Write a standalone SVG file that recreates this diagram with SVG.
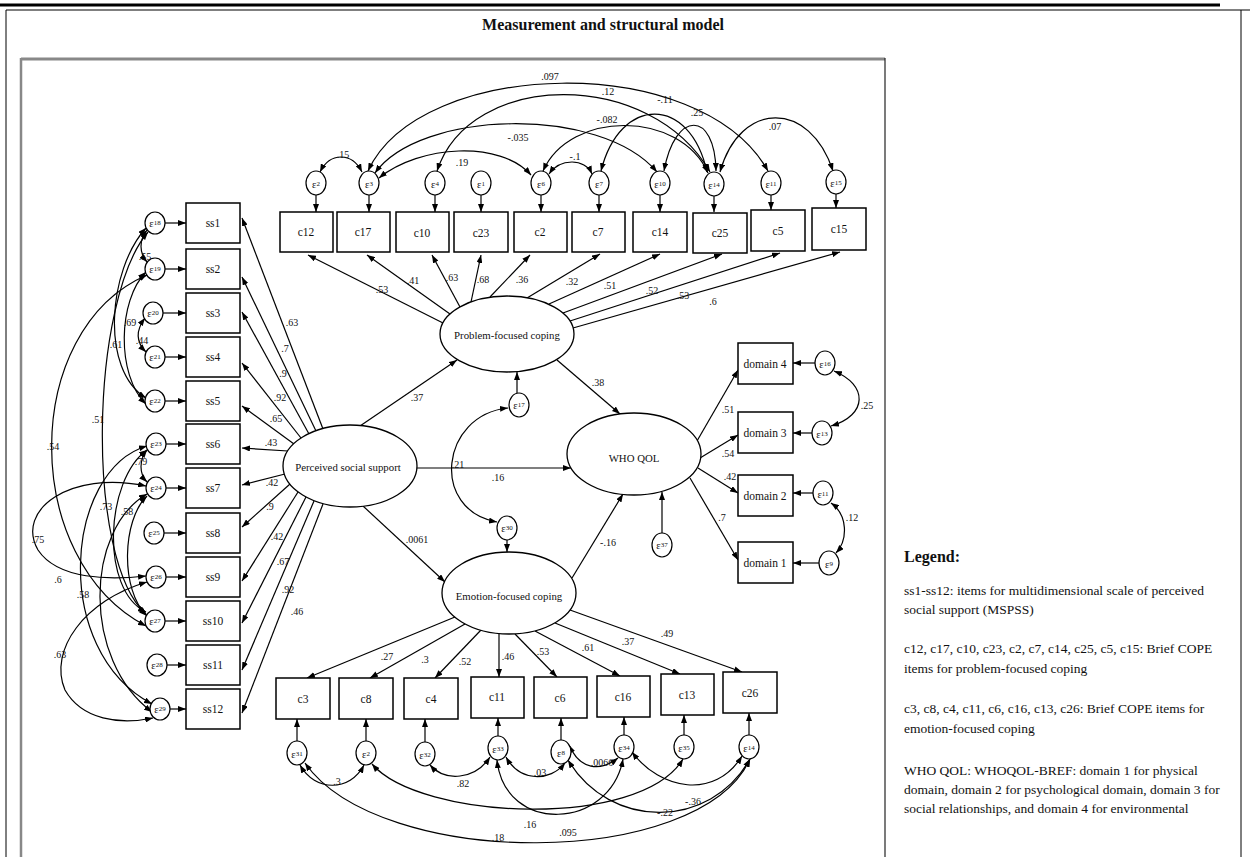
<svg xmlns="http://www.w3.org/2000/svg" width="1250" height="857" viewBox="0 0 1250 857">
<defs>
  <marker id="ah" viewBox="0 0 8 6" refX="8" refY="3" markerWidth="8" markerHeight="6" markerUnits="userSpaceOnUse" orient="auto-start-reverse">
    <path d="M0,0 L8,3 L0,6 z" fill="#000"/>
  </marker>
  <style>
    .ln{stroke:#000;stroke-width:1.2;fill:none}
    .p{marker-end:url(#ah)}
    .cv{marker-start:url(#ah);marker-end:url(#ah)}
    .box{fill:#fff;stroke:#000;stroke-width:1.5}
    .err{fill:#fff;stroke:#000;stroke-width:1.2}
    .lat{fill:#fff;stroke:#000;stroke-width:1.3}
    text{font-family:"Liberation Serif","Times New Roman",serif;fill:#111}
    .nt{font-size:11.5px;text-anchor:middle;dominant-baseline:central}
    .lt{font-size:10.8px;text-anchor:middle;dominant-baseline:central}
    .et{font-size:10.5px;text-anchor:middle;dominant-baseline:central}
    .et tspan{font-size:7px}
    .k{font-size:10px;text-anchor:middle}
    .lg{font-size:13.5px}
  </style>
</defs>

<!-- page frame -->
<rect x="0" y="0" width="1250" height="857" fill="#fff"/>
<line x1="0" y1="5" x2="1220" y2="5" stroke="#000" stroke-width="3"/>
<line x1="6" y1="10" x2="1250" y2="10" stroke="#000" stroke-width="1"/>
<line x1="6" y1="10" x2="6" y2="857" stroke="#000" stroke-width="1"/>
<line x1="1241" y1="10" x2="1241" y2="857" stroke="#000" stroke-width="1"/>
<text x="603" y="30" font-size="16" font-weight="bold" text-anchor="middle">Measurement and structural model</text>

<!-- figure panel -->
<line x1="21" y1="59" x2="885" y2="59" stroke="#888" stroke-width="3"/>
<line x1="21" y1="58" x2="21" y2="857" stroke="#888" stroke-width="2.5"/>
<line x1="885" y1="58" x2="885" y2="857" stroke="#222" stroke-width="1.2"/>

<g id="connectors">
  <!-- structural paths -->
  <line class="ln p" x1="360" y1="426" x2="457" y2="360"/>
  <line class="ln p" x1="557" y1="360" x2="620" y2="414"/>
  <line class="ln p" x1="417" y1="468" x2="571" y2="468"/>
  <line class="ln p" x1="363" y1="506" x2="445" y2="582"/>
  <line class="ln p" x1="572" y1="578" x2="623" y2="494"/>

  <!-- social support loadings -->
  <line class="ln p" x1="323" y1="429" x2="242" y2="218"/>
  <line class="ln p" x1="316" y1="431" x2="242" y2="277"/>
  <line class="ln p" x1="309" y1="434" x2="242" y2="312"/>
  <line class="ln p" x1="301" y1="438" x2="242" y2="363"/>
  <line class="ln p" x1="294" y1="444" x2="242" y2="406"/>
  <line class="ln p" x1="288" y1="451" x2="242" y2="448"/>
  <line class="ln p" x1="285" y1="474" x2="242" y2="485"/>
  <line class="ln p" x1="290" y1="484" x2="242" y2="527"/>
  <line class="ln p" x1="298" y1="492" x2="242" y2="581"/>
  <line class="ln p" x1="306" y1="497" x2="242" y2="623"/>
  <line class="ln p" x1="314" y1="501" x2="242" y2="670"/>
  <line class="ln p" x1="323" y1="504" x2="242" y2="713"/>

  <!-- problem-focused loadings -->
  <line class="ln p" x1="443" y1="323" x2="308" y2="255"/>
  <line class="ln p" x1="450" y1="314" x2="367" y2="255"/>
  <line class="ln p" x1="460" y1="307" x2="432" y2="255"/>
  <line class="ln p" x1="471" y1="302" x2="481" y2="255"/>
  <line class="ln p" x1="490" y1="297" x2="530" y2="255"/>
  <line class="ln p" x1="527" y1="298" x2="600" y2="254"/>
  <line class="ln p" x1="549" y1="304" x2="660" y2="254"/>
  <line class="ln p" x1="563" y1="313" x2="722" y2="254"/>
  <line class="ln p" x1="570" y1="321" x2="780" y2="253"/>
  <line class="ln p" x1="573" y1="328" x2="840" y2="252"/>

  <!-- emotion-focused loadings -->
  <line class="ln p" x1="455" y1="617" x2="307" y2="678"/>
  <line class="ln p" x1="465" y1="624" x2="370" y2="678"/>
  <line class="ln p" x1="481" y1="630" x2="435" y2="678"/>
  <line class="ln p" x1="499" y1="634" x2="499" y2="677"/>
  <line class="ln p" x1="515" y1="634" x2="557" y2="677"/>
  <line class="ln p" x1="535" y1="631" x2="620" y2="676"/>
  <line class="ln p" x1="555" y1="623" x2="680" y2="674"/>
  <line class="ln p" x1="570" y1="610" x2="742" y2="672"/>

  <!-- quality of life loadings -->
  <line class="ln p" x1="697" y1="441" x2="738" y2="370"/>
  <line class="ln p" x1="700" y1="458" x2="738" y2="435"/>
  <line class="ln p" x1="698" y1="468" x2="738" y2="493"/>
  <line class="ln p" x1="690" y1="478" x2="738" y2="560"/>

  <!-- residual arrows: top items -->
  <line class="ln p" x1="316" y1="195" x2="316" y2="212"/>
  <line class="ln p" x1="369" y1="195" x2="369" y2="212"/>
  <line class="ln p" x1="435" y1="195" x2="435" y2="212"/>
  <line class="ln p" x1="481" y1="195" x2="481" y2="212"/>
  <line class="ln p" x1="541" y1="195" x2="541" y2="212"/>
  <line class="ln p" x1="599" y1="195" x2="599" y2="212"/>
  <line class="ln p" x1="660" y1="195" x2="660" y2="212"/>
  <line class="ln p" x1="714" y1="196" x2="714" y2="212"/>
  <line class="ln p" x1="771" y1="195" x2="771" y2="210"/>
  <line class="ln p" x1="836" y1="194" x2="836" y2="208"/>

  <!-- residual arrows: social support items -->
  <line class="ln p" x1="165" y1="223" x2="186" y2="223"/>
  <line class="ln p" x1="165" y1="269" x2="186" y2="269"/>
  <line class="ln p" x1="163" y1="313" x2="186" y2="313"/>
  <line class="ln p" x1="165" y1="357" x2="186" y2="357"/>
  <line class="ln p" x1="165" y1="401" x2="186" y2="401"/>
  <line class="ln p" x1="166" y1="444" x2="186" y2="444"/>
  <line class="ln p" x1="166" y1="488" x2="186" y2="488"/>
  <line class="ln p" x1="164" y1="533" x2="186" y2="533"/>
  <line class="ln p" x1="166" y1="577" x2="186" y2="577"/>
  <line class="ln p" x1="165" y1="621" x2="186" y2="621"/>
  <line class="ln p" x1="167" y1="665" x2="186" y2="665"/>
  <line class="ln p" x1="170" y1="709" x2="186" y2="709"/>

  <!-- residual arrows: bottom items -->
  <line class="ln p" x1="297" y1="741" x2="297" y2="719"/>
  <line class="ln p" x1="366" y1="741" x2="366" y2="719"/>
  <line class="ln p" x1="425" y1="742" x2="425" y2="719"/>
  <line class="ln p" x1="498" y1="736" x2="498" y2="718"/>
  <line class="ln p" x1="561" y1="740" x2="561" y2="718"/>
  <line class="ln p" x1="624" y1="735" x2="624" y2="717"/>
  <line class="ln p" x1="684" y1="735" x2="684" y2="715"/>
  <line class="ln p" x1="749" y1="735" x2="749" y2="713"/>

  <!-- residual arrows: domains and latent disturbances -->
  <line class="ln p" x1="815" y1="363" x2="793" y2="363"/>
  <line class="ln p" x1="812" y1="433" x2="793" y2="433"/>
  <line class="ln p" x1="813" y1="493" x2="793" y2="493"/>
  <line class="ln p" x1="819" y1="563" x2="793" y2="563"/>
  <line class="ln p" x1="517" y1="393" x2="517" y2="372"/>
  <line class="ln p" x1="507" y1="540" x2="507" y2="552"/>
  <line class="ln p" x1="662" y1="533" x2="662" y2="492"/>

  <!-- covariances: top residuals -->
  <path class="ln cv" d="M320,172 C330,152 352,152 362,172"/>
  <path class="ln cv" d="M368,171 C420,58 700,50 768,171"/>
  <path class="ln cv" d="M437,171 C470,70 650,68 710,172"/>
  <path class="ln cv" d="M375,173 C420,110 600,105 657,172"/>
  <path class="ln cv" d="M379,178 C420,145 500,140 531,175"/>
  <path class="ln cv" d="M549,174 C560,158 585,158 592,174"/>
  <path class="ln cv" d="M543,171 C570,110 680,110 708,173"/>
  <path class="ln cv" d="M601,171 C620,95 690,95 707,172"/>
  <path class="ln cv" d="M664,171 C675,110 715,110 716,171"/>
  <path class="ln cv" d="M720,172 C740,100 810,100 833,171"/>

  <!-- covariances: social support residuals -->
  <path class="ln cv" d="M147,230 C139,240 139,253 147,262"/>
  <path class="ln cv" d="M146,228 C108,270 100,370 146,398"/>
  <path class="ln cv" d="M146,272 C118,300 116,375 146,404"/>
  <path class="ln cv" d="M145,318 C136,330 136,342 146,352"/>
  <path class="ln cv" d="M148,232 C90,300 85,560 146,614"/>
  <path class="ln cv" d="M147,275 C20,330 20,560 146,626"/>
  <path class="ln cv" d="M147,450 C139,460 139,474 147,482"/>
  <path class="ln cv" d="M147,450 C105,480 100,590 146,612"/>
  <path class="ln cv" d="M147,496 C122,520 120,590 147,616"/>
  <path class="ln cv" d="M146,486 C70,470 15,510 38,550 C58,580 110,580 146,576"/>
  <path class="ln cv" d="M147,446 C65,470 50,650 152,704"/>
  <path class="ln cv" d="M147,494 C85,530 82,660 152,712"/>
  <path class="ln cv" d="M147,582 C85,600 48,650 65,690 C82,720 120,725 153,718"/>

  <!-- covariances: bottom residuals -->
  <path class="ln cv" d="M300,765 C315,792 350,792 364,765"/>
  <path class="ln cv" d="M430,765 C445,782 475,780 490,757"/>
  <path class="ln cv" d="M506,757 C520,782 550,782 565,763"/>
  <path class="ln cv" d="M569,745 C580,770 600,772 618,758"/>
  <path class="ln cv" d="M632,752 C660,790 715,800 742,756"/>
  <path class="ln cv" d="M568,760 C610,830 710,830 750,759"/>
  <path class="ln cv" d="M497,760 C505,835 610,830 623,759"/>
  <path class="ln cv" d="M372,764 C420,820 640,830 683,759"/>
  <path class="ln cv" d="M305,763 C380,870 700,870 750,759"/>

  <!-- covariances: domains and disturbances -->
  <path class="ln cv" d="M834,371 C868,385 868,415 831,426"/>
  <path class="ln cv" d="M831,503 C848,515 848,540 836,553"/>
  <path class="ln cv" d="M508,408 C440,415 430,510 497,522"/>

  <!-- coefficients -->
  <g class="k">
    <text x="343" y="158">.15</text>
    <text x="550" y="80">.097</text>
    <text x="608" y="95">.12</text>
    <text x="518" y="141">-.035</text>
    <text x="462" y="166">.19</text>
    <text x="575" y="160">-.1</text>
    <text x="607" y="123">-.082</text>
    <text x="665" y="103">-.11</text>
    <text x="697" y="116">.25</text>
    <text x="775" y="130">.07</text>

    <text x="382" y="293">.53</text>
    <text x="413" y="284">.41</text>
    <text x="452" y="281">.63</text>
    <text x="483" y="283">.68</text>
    <text x="522" y="283">.36</text>
    <text x="572" y="285">.32</text>
    <text x="610" y="289">.51</text>
    <text x="652" y="294">.52</text>
    <text x="683" y="299">.53</text>
    <text x="713" y="305">.6</text>

    <text x="292" y="326">.63</text>
    <text x="285" y="352">.7</text>
    <text x="283" y="377">.9</text>
    <text x="280" y="401">.92</text>
    <text x="276" y="422">.65</text>
    <text x="271" y="446">.43</text>
    <text x="272" y="486">.42</text>
    <text x="270" y="510">.9</text>
    <text x="277" y="540">.42</text>
    <text x="283" y="565">.67</text>
    <text x="288" y="593">.92</text>
    <text x="297" y="615">.46</text>

    <text x="145" y="260">.55</text>
    <text x="130" y="326">.69</text>
    <text x="116" y="348">.61</text>
    <text x="142" y="344">.44</text>
    <text x="98" y="423">.51</text>
    <text x="53" y="450">.54</text>
    <text x="141" y="465">.79</text>
    <text x="106" y="510">.73</text>
    <text x="127" y="515">.58</text>
    <text x="38" y="543">.75</text>
    <text x="58" y="583">.6</text>
    <text x="83" y="598">.58</text>
    <text x="60" y="658">.63</text>

    <text x="417" y="401">.37</text>
    <text x="598" y="386">.38</text>
    <text x="498" y="481">.16</text>
    <text x="458" y="468">.21</text>
    <text x="417" y="543">.0061</text>
    <text x="608" y="546">-.16</text>

    <text x="728" y="413">.51</text>
    <text x="728" y="457">.54</text>
    <text x="730" y="480">.42</text>
    <text x="722" y="521">.7</text>
    <text x="867" y="409">.25</text>
    <text x="852" y="521">.12</text>

    <text x="387" y="660">.27</text>
    <text x="425" y="663">.3</text>
    <text x="465" y="665">.52</text>
    <text x="508" y="660">.46</text>
    <text x="543" y="655">.53</text>
    <text x="588" y="651">.61</text>
    <text x="628" y="645">.37</text>
    <text x="667" y="637">.49</text>

    <text x="337" y="785">.3</text>
    <text x="463" y="787">.82</text>
    <text x="540" y="776">.03</text>
    <text x="602" y="766">.0066</text>
    <text x="693" y="805">-.36</text>
    <text x="665" y="816">-.22</text>
    <text x="530" y="828">.16</text>
    <text x="568" y="836">.095</text>
    <text x="498" y="841">.18</text>
  </g>
</g>

<!-- latent variables -->
<g id="pss"><ellipse class="lat" cx="350" cy="466" rx="67" ry="41"/><text class="lt" x="348" y="467">Perceived social support</text></g>
<g id="pfc"><ellipse class="lat" cx="507" cy="334" rx="67" ry="38"/><text class="lt" x="507" y="335">Problem-focused coping</text></g>
<g id="efc"><ellipse class="lat" cx="509" cy="593" rx="67" ry="41"/><text class="lt" x="509" y="596">Emotion-focused coping</text></g>
<g id="whoqol"><ellipse class="lat" cx="634" cy="454" rx="67" ry="41"/><text class="lt" x="634" y="458">WHO QOL</text></g>

<!-- disturbances of latent variables -->
<g id="e_pfc"><ellipse class="err" cx="519" cy="405" rx="10" ry="12"/><text class="et" x="519" y="405">ε<tspan>17</tspan></text></g>
<g id="e_efc"><ellipse class="err" cx="507" cy="528" rx="10" ry="12"/><text class="et" x="507" y="528">ε<tspan>30</tspan></text></g>
<g id="e_qol"><ellipse class="err" cx="662" cy="545" rx="10" ry="12"/><text class="et" x="662" y="545">ε<tspan>37</tspan></text></g>

<!-- problem-focused items -->
<g id="c12"><rect class="box" x="280" y="212" width="53" height="40"/><text class="nt" x="306" y="232">c12</text></g>
<g id="c17"><rect class="box" x="337" y="212" width="53" height="40"/><text class="nt" x="363" y="232">c17</text></g>
<g id="c10"><rect class="box" x="396" y="212" width="53" height="40"/><text class="nt" x="422" y="233">c10</text></g>
<g id="c23"><rect class="box" x="454" y="212" width="54" height="40"/><text class="nt" x="481" y="233">c23</text></g>
<g id="c2"><rect class="box" x="514" y="212" width="53" height="40"/><text class="nt" x="540" y="232">c2</text></g>
<g id="c7"><rect class="box" x="572" y="212" width="53" height="40"/><text class="nt" x="598" y="232">c7</text></g>
<g id="c14"><rect class="box" x="633" y="212" width="54" height="40"/><text class="nt" x="660" y="232">c14</text></g>
<g id="c25"><rect class="box" x="693" y="213" width="54" height="40"/><text class="nt" x="720" y="233">c25</text></g>
<g id="c5"><rect class="box" x="751" y="210" width="54" height="41"/><text class="nt" x="778" y="231">c5</text></g>
<g id="c15"><rect class="box" x="812" y="208" width="54" height="42"/><text class="nt" x="839" y="229">c15</text></g>

<g id="e_c12"><ellipse class="err" cx="316" cy="183" rx="10" ry="12"/><text class="et" x="316" y="184">ε<tspan>2</tspan></text></g>
<g id="e_c17"><ellipse class="err" cx="369" cy="183" rx="10" ry="12"/><text class="et" x="369" y="184">ε<tspan>3</tspan></text></g>
<g id="e_c10"><ellipse class="err" cx="435" cy="183" rx="10" ry="12"/><text class="et" x="435" y="184">ε<tspan>4</tspan></text></g>
<g id="e_c23"><ellipse class="err" cx="481" cy="183" rx="10" ry="12"/><text class="et" x="481" y="184">ε<tspan>1</tspan></text></g>
<g id="e_c2"><ellipse class="err" cx="541" cy="183" rx="10" ry="12"/><text class="et" x="541" y="184">ε<tspan>6</tspan></text></g>
<g id="e_c7"><ellipse class="err" cx="599" cy="183" rx="10" ry="12"/><text class="et" x="599" y="184">ε<tspan>7</tspan></text></g>
<g id="e_c14"><ellipse class="err" cx="660" cy="183" rx="10" ry="12"/><text class="et" x="660" y="184">ε<tspan>10</tspan></text></g>
<g id="e_c25"><ellipse class="err" cx="714" cy="184" rx="10" ry="12"/><text class="et" x="714" y="185">ε<tspan>14</tspan></text></g>
<g id="e_c5"><ellipse class="err" cx="771" cy="183" rx="10" ry="12"/><text class="et" x="771" y="184">ε<tspan>11</tspan></text></g>
<g id="e_c15"><ellipse class="err" cx="836" cy="182" rx="10" ry="12"/><text class="et" x="836" y="183">ε<tspan>15</tspan></text></g>

<!-- social support items -->
<g id="ss1"><rect class="box" x="186" y="203" width="54" height="40"/><text class="nt" x="213" y="223">ss1</text></g>
<g id="ss2"><rect class="box" x="186" y="249" width="54" height="40"/><text class="nt" x="213" y="269">ss2</text></g>
<g id="ss3"><rect class="box" x="186" y="293" width="54" height="40"/><text class="nt" x="213" y="313">ss3</text></g>
<g id="ss4"><rect class="box" x="186" y="337" width="54" height="40"/><text class="nt" x="213" y="357">ss4</text></g>
<g id="ss5"><rect class="box" x="186" y="381" width="54" height="40"/><text class="nt" x="213" y="401">ss5</text></g>
<g id="ss6"><rect class="box" x="186" y="424" width="54" height="40"/><text class="nt" x="213" y="444">ss6</text></g>
<g id="ss7"><rect class="box" x="186" y="468" width="54" height="40"/><text class="nt" x="213" y="488">ss7</text></g>
<g id="ss8"><rect class="box" x="186" y="513" width="54" height="40"/><text class="nt" x="213" y="533">ss8</text></g>
<g id="ss9"><rect class="box" x="186" y="557" width="54" height="40"/><text class="nt" x="213" y="577">ss9</text></g>
<g id="ss10"><rect class="box" x="186" y="601" width="54" height="40"/><text class="nt" x="213" y="621">ss10</text></g>
<g id="ss11"><rect class="box" x="186" y="645" width="54" height="40"/><text class="nt" x="213" y="665">ss11</text></g>
<g id="ss12"><rect class="box" x="186" y="689" width="54" height="40"/><text class="nt" x="213" y="709">ss12</text></g>

<g id="e_ss1"><ellipse class="err" cx="155" cy="223" rx="10" ry="11"/><text class="et" x="155" y="223">ε<tspan>18</tspan></text></g>
<g id="e_ss2"><ellipse class="err" cx="155" cy="269" rx="10" ry="11"/><text class="et" x="155" y="269">ε<tspan>19</tspan></text></g>
<g id="e_ss3"><ellipse class="err" cx="153" cy="313" rx="10" ry="11"/><text class="et" x="153" y="313">ε<tspan>20</tspan></text></g>
<g id="e_ss4"><ellipse class="err" cx="155" cy="357" rx="10" ry="11"/><text class="et" x="155" y="357">ε<tspan>21</tspan></text></g>
<g id="e_ss5"><ellipse class="err" cx="155" cy="401" rx="10" ry="11"/><text class="et" x="155" y="401">ε<tspan>22</tspan></text></g>
<g id="e_ss6"><ellipse class="err" cx="156" cy="444" rx="10" ry="11"/><text class="et" x="156" y="444">ε<tspan>23</tspan></text></g>
<g id="e_ss7"><ellipse class="err" cx="156" cy="488" rx="10" ry="11"/><text class="et" x="156" y="488">ε<tspan>24</tspan></text></g>
<g id="e_ss8"><ellipse class="err" cx="154" cy="533" rx="10" ry="11"/><text class="et" x="154" y="533">ε<tspan>25</tspan></text></g>
<g id="e_ss9"><ellipse class="err" cx="156" cy="577" rx="10" ry="11"/><text class="et" x="156" y="577">ε<tspan>26</tspan></text></g>
<g id="e_ss10"><ellipse class="err" cx="155" cy="621" rx="10" ry="11"/><text class="et" x="155" y="621">ε<tspan>27</tspan></text></g>
<g id="e_ss11"><ellipse class="err" cx="157" cy="665" rx="10" ry="11"/><text class="et" x="157" y="665">ε<tspan>28</tspan></text></g>
<g id="e_ss12"><ellipse class="err" cx="160" cy="709" rx="10" ry="11"/><text class="et" x="160" y="709">ε<tspan>29</tspan></text></g>

<!-- emotion-focused items -->
<g id="c3"><rect class="box" x="276" y="678" width="54" height="41"/><text class="nt" x="303" y="699">c3</text></g>
<g id="c8"><rect class="box" x="339" y="678" width="54" height="41"/><text class="nt" x="366" y="699">c8</text></g>
<g id="c4"><rect class="box" x="404" y="678" width="54" height="41"/><text class="nt" x="431" y="699">c4</text></g>
<g id="c11"><rect class="box" x="471" y="677" width="53" height="41"/><text class="nt" x="497" y="697">c11</text></g>
<g id="c6"><rect class="box" x="534" y="677" width="53" height="41"/><text class="nt" x="560" y="698">c6</text></g>
<g id="c16"><rect class="box" x="597" y="676" width="53" height="41"/><text class="nt" x="623" y="697">c16</text></g>
<g id="c13"><rect class="box" x="661" y="674" width="53" height="41"/><text class="nt" x="687" y="695">c13</text></g>
<g id="c26"><rect class="box" x="723" y="672" width="54" height="41"/><text class="nt" x="750" y="693">c26</text></g>

<g id="e_c3"><ellipse class="err" cx="297" cy="753" rx="10" ry="12"/><text class="et" x="297" y="754">ε<tspan>31</tspan></text></g>
<g id="e_c8"><ellipse class="err" cx="366" cy="753" rx="10" ry="12"/><text class="et" x="366" y="754">ε<tspan>2</tspan></text></g>
<g id="e_c4"><ellipse class="err" cx="425" cy="754" rx="10" ry="12"/><text class="et" x="425" y="755">ε<tspan>32</tspan></text></g>
<g id="e_c11"><ellipse class="err" cx="498" cy="748" rx="10" ry="12"/><text class="et" x="498" y="749">ε<tspan>33</tspan></text></g>
<g id="e_c6"><ellipse class="err" cx="561" cy="752" rx="10" ry="12"/><text class="et" x="561" y="753">ε<tspan>8</tspan></text></g>
<g id="e_c16"><ellipse class="err" cx="624" cy="747" rx="10" ry="12"/><text class="et" x="624" y="748">ε<tspan>34</tspan></text></g>
<g id="e_c13"><ellipse class="err" cx="684" cy="747" rx="10" ry="12"/><text class="et" x="684" y="748">ε<tspan>35</tspan></text></g>
<g id="e_c26"><ellipse class="err" cx="749" cy="747" rx="10" ry="12"/><text class="et" x="749" y="748">ε<tspan>14</tspan></text></g>

<!-- quality of life domains -->
<g id="domain4"><rect class="box" x="738" y="343" width="55" height="41"/><text class="nt" x="765" y="364">domain  4</text></g>
<g id="domain3"><rect class="box" x="738" y="412" width="55" height="41"/><text class="nt" x="765" y="433">domain  3</text></g>
<g id="domain2"><rect class="box" x="738" y="475" width="55" height="41"/><text class="nt" x="765" y="496">domain  2</text></g>
<g id="domain1"><rect class="box" x="738" y="542" width="55" height="41"/><text class="nt" x="765" y="563">domain  1</text></g>

<g id="e_d4"><ellipse class="err" cx="825" cy="363" rx="10" ry="12"/><text class="et" x="825" y="364">ε<tspan>16</tspan></text></g>
<g id="e_d3"><ellipse class="err" cx="822" cy="433" rx="10" ry="12"/><text class="et" x="822" y="434">ε<tspan>13</tspan></text></g>
<g id="e_d2"><ellipse class="err" cx="823" cy="493" rx="10" ry="12"/><text class="et" x="823" y="494">ε<tspan>11</tspan></text></g>
<g id="e_d1"><ellipse class="err" cx="829" cy="563" rx="10" ry="12"/><text class="et" x="829" y="564">ε<tspan>9</tspan></text></g>

<!-- legend -->
<g id="legend">
  <text x="904" y="562" font-size="16" font-weight="bold">Legend:</text>
  <text class="lg" x="904" y="595">ss1-ss12: items for multidimensional scale of perceived</text>
  <text class="lg" x="904" y="614">social support (MSPSS)</text>
  <text class="lg" x="904" y="653">c12, c17, c10, c23, c2, c7, c14, c25, c5, c15: Brief COPE</text>
  <text class="lg" x="904" y="673">items for problem-focused coping</text>
  <text class="lg" x="904" y="713">c3, c8, c4, c11, c6, c16, c13, c26: Brief COPE items for</text>
  <text class="lg" x="904" y="733">emotion-focused coping</text>
  <text class="lg" x="904" y="775">WHO QOL: WHOQOL-BREF: domain 1 for physical</text>
  <text class="lg" x="904" y="794">domain, domain 2 for psychological domain, domain 3 for</text>
  <text class="lg" x="904" y="813">social relationships, and domain 4 for environmental</text>
</g>
</svg>
